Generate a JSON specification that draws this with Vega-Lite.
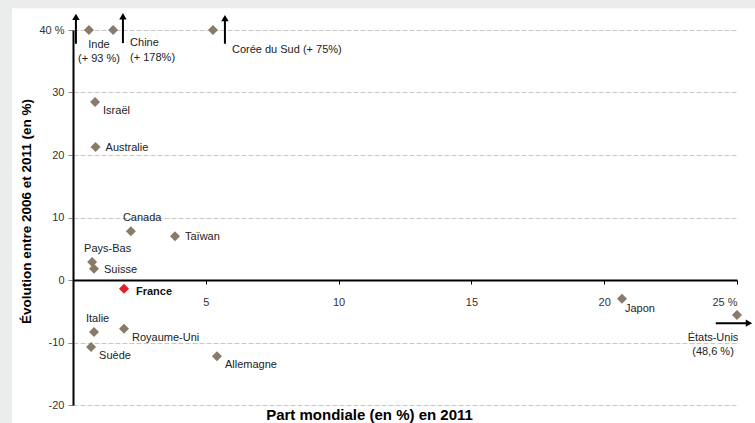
{
  "$schema": "https://vega.github.io/schema/vega-lite/v6.json",
  "width": 664,
  "height": 375,
  "autosize": {"type": "none"},
  "padding": {"left": 73, "top": 30, "right": 18, "bottom": 18},
  "background": "white",
  "config": {"view": {"stroke": null}, "font": "Liberation Sans"},
  "datasets": {
    "pays": [
      {"pays": "Inde", "part": 0.60, "evolution": 40, "etiquette": "Inde\n(+ 93 %)"},
      {"pays": "Chine", "part": 1.51, "evolution": 40, "etiquette": "Chine\n(+ 178%)"},
      {"pays": "Corée du Sud", "part": 5.27, "evolution": 40, "etiquette": "Corée du Sud (+ 75%)"},
      {"pays": "Israël", "part": 0.83, "evolution": 28.5, "etiquette": "Israël"},
      {"pays": "Australie", "part": 0.85, "evolution": 21.3, "etiquette": "Australie"},
      {"pays": "Canada", "part": 2.18, "evolution": 7.8, "etiquette": "Canada"},
      {"pays": "Taïwan", "part": 3.84, "evolution": 7.0, "etiquette": "Taïwan"},
      {"pays": "Pays-Bas", "part": 0.72, "evolution": 2.9, "etiquette": "Pays-Bas"},
      {"pays": "Suisse", "part": 0.79, "evolution": 1.8, "etiquette": "Suisse"},
      {"pays": "France", "part": 1.92, "evolution": -1.4, "etiquette": "France"},
      {"pays": "Italie", "part": 0.79, "evolution": -8.3, "etiquette": "Italie"},
      {"pays": "Royaume-Uni", "part": 1.92, "evolution": -7.8, "etiquette": "Royaume-Uni"},
      {"pays": "Suède", "part": 0.68, "evolution": -10.7, "etiquette": "Suède"},
      {"pays": "Allemagne", "part": 5.42, "evolution": -12.2, "etiquette": "Allemagne"},
      {"pays": "Japon", "part": 20.67, "evolution": -3.0, "etiquette": "Japon"},
      {"pays": "États-Unis", "part": 25.0, "evolution": -5.6, "etiquette": "États-Unis\n(48,6 %)"}
    ],
    "fleches": [
      {"x": 0.11, "y": 37.8, "x2": 0.11, "y2": 42.1, "sens": "haut"},
      {"x": 1.88, "y": 37.9, "x2": 1.88, "y2": 42.2, "sens": "haut"},
      {"x": 5.72, "y": 37.8, "x2": 5.72, "y2": 41.9, "sens": "haut"},
      {"x": 24.2, "y": -6.9, "x2": 25.45, "y2": -6.9, "sens": "droite"}
    ]
  },
  "data": {"name": "pays"},
  "layer": [
    {
      "data": {"values": [{}]},
      "mark": {"type": "rect", "color": "#ebecec"},
      "encoding": {
        "x": {"datum": -3, "type": "quantitative", "scale": {"domain": [0, 25], "nice": false, "zero": false}},
        "x2": {"datum": -2.3},
        "y": {"datum": -25, "type": "quantitative", "scale": {"domain": [-20, 40], "nice": false, "zero": false}},
        "y2": {"datum": 46}
      }
    },
    {
      "data": {"values": [{}]},
      "mark": {"type": "rect", "color": "#ebecec"},
      "encoding": {
        "x": {"datum": -3, "type": "quantitative", "scale": {"domain": [0, 25], "nice": false, "zero": false}},
        "x2": {"datum": 28},
        "y": {"datum": 43.5, "type": "quantitative", "scale": {"domain": [-20, 40], "nice": false, "zero": false}},
        "y2": {"datum": 46}
      }
    },
    {
      "mark": {"type": "point", "shape": "diamond", "filled": true, "size": 100, "opacity": 1},
      "encoding": {
        "x": {
          "field": "part", "type": "quantitative",
          "scale": {"domain": [0, 25], "nice": false, "zero": false},
          "axis": {
            "title": "Part mondiale (en %) en 2011",
            "values": [5, 10, 15, 20, 25],
            "labelExpr": "datum.value == 25 ? '25 %' : datum.label",
            "offset": -125,
            "grid": false,
            "domainColor": "black", "domainWidth": 2,
            "tickColor": "black", "tickSize": 4, "tickWidth": 1,
            "labelFontSize": 11, "labelColor": "#333333", "labelPadding": 12,
            "titleFontSize": 15, "titleFontWeight": "bold", "titleColor": "black",
            "titleX": 296, "titleY": 139, "titleAlign": "center", "titleAnchor": null, "titleBaseline": "alphabetic",
            "zindex": 1
          }
        },
        "y": {
          "field": "evolution", "type": "quantitative",
          "scale": {"domain": [-20, 40], "nice": false, "zero": false},
          "axis": {
            "title": "Évolution entre 2006 et 2011 (en %)",
            "values": [-20, -10, 0, 10, 20, 30, 40],
            "labelExpr": "datum.value == 40 ? '40 %' : '' + datum.value",
            "grid": true, "gridColor": "#c8c8c8", "gridDash": [5, 2], "gridWidth": 1,
            "domainColor": "black", "domainWidth": 2,
            "tickColor": "#888888", "tickSize": 5, "tickWidth": 1,
            "labelFontSize": 11, "labelColor": "#333333", "labelPadding": 4,
            "titleFontSize": 13.5, "titleFontWeight": "bold", "titleColor": "black",
            "titleX": -47, "titleY": 181, "titleBaseline": "middle", "titleAlign": "center", "titleAnchor": null,
            "zindex": 0
          }
        },
        "color": {
          "condition": {"test": "datum.pays == 'France'", "value": "#e31e24"},
          "value": "#8a7a6a"
        }
      }
    },
    {
      "data": {"name": "fleches"},
      "mark": {"type": "rule", "color": "black", "strokeWidth": 2},
      "encoding": {
        "x": {"field": "x", "type": "quantitative", "scale": {"domain": [0, 25], "nice": false, "zero": false}},
        "y": {"field": "y", "type": "quantitative", "scale": {"domain": [-20, 40], "nice": false, "zero": false}},
        "x2": {"field": "x2"},
        "y2": {"field": "y2"}
      }
    },
    {
      "data": {"name": "fleches"},
      "mark": {"type": "point", "filled": true, "size": 55, "color": "black", "opacity": 1},
      "encoding": {
        "x": {"field": "x2", "type": "quantitative", "scale": {"domain": [0, 25], "nice": false, "zero": false}},
        "y": {"field": "y2", "type": "quantitative", "scale": {"domain": [-20, 40], "nice": false, "zero": false}},
        "shape": {"field": "sens", "type": "nominal", "scale": {"domain": ["haut", "droite"], "range": ["triangle-up", "triangle-right"]}, "legend": null}
      }
    },
    {
      "transform": [{"filter": {"field": "pays", "oneOf": ["Australie", "Taïwan", "Suisse"]}}],
      "mark": {"type": "text", "align": "left", "baseline": "middle", "dx": 10, "dy": 1, "fontSize": 11, "color": "#222222"},
      "encoding": {
        "x": {"field": "part", "type": "quantitative", "scale": {"domain": [0, 25], "nice": false, "zero": false}},
        "y": {"field": "evolution", "type": "quantitative", "scale": {"domain": [-20, 40], "nice": false, "zero": false}},
        "text": {"field": "etiquette"}
      }
    },
    {
      "transform": [{"filter": {"field": "pays", "oneOf": ["Israël", "Suède", "Allemagne", "Royaume-Uni"]}}],
      "mark": {"type": "text", "align": "left", "baseline": "middle", "dx": 8, "dy": 9, "fontSize": 11, "color": "#222222"},
      "encoding": {
        "x": {"field": "part", "type": "quantitative", "scale": {"domain": [0, 25], "nice": false, "zero": false}},
        "y": {"field": "evolution", "type": "quantitative", "scale": {"domain": [-20, 40], "nice": false, "zero": false}},
        "text": {"field": "etiquette"}
      }
    },
    {
      "transform": [{"filter": {"field": "pays", "oneOf": ["Canada", "Pays-Bas", "Italie"]}}],
      "mark": {"type": "text", "align": "left", "baseline": "middle", "dx": -8, "dy": -13, "fontSize": 11, "color": "#222222"},
      "encoding": {
        "x": {"field": "part", "type": "quantitative", "scale": {"domain": [0, 25], "nice": false, "zero": false}},
        "y": {"field": "evolution", "type": "quantitative", "scale": {"domain": [-20, 40], "nice": false, "zero": false}},
        "text": {"field": "etiquette"}
      }
    },
    {
      "transform": [{"filter": {"field": "pays", "equal": "France"}}],
      "mark": {"type": "text", "align": "left", "baseline": "middle", "dx": 12, "dy": 3, "fontSize": 11, "fontWeight": "bold", "color": "#111111"},
      "encoding": {
        "x": {"field": "part", "type": "quantitative", "scale": {"domain": [0, 25], "nice": false, "zero": false}},
        "y": {"field": "evolution", "type": "quantitative", "scale": {"domain": [-20, 40], "nice": false, "zero": false}},
        "text": {"field": "etiquette"}
      }
    },
    {
      "transform": [{"filter": {"field": "pays", "equal": "Japon"}}],
      "mark": {"type": "text", "align": "left", "baseline": "middle", "dx": 3, "dy": 10, "fontSize": 11, "color": "#222222"},
      "encoding": {
        "x": {"field": "part", "type": "quantitative", "scale": {"domain": [0, 25], "nice": false, "zero": false}},
        "y": {"field": "evolution", "type": "quantitative", "scale": {"domain": [-20, 40], "nice": false, "zero": false}},
        "text": {"field": "etiquette"}
      }
    },
    {
      "transform": [{"filter": {"field": "pays", "equal": "Corée du Sud"}}],
      "mark": {"type": "text", "align": "left", "baseline": "middle", "dx": 19, "dy": 20, "fontSize": 11, "color": "#222222"},
      "encoding": {
        "x": {"field": "part", "type": "quantitative", "scale": {"domain": [0, 25], "nice": false, "zero": false}},
        "y": {"field": "evolution", "type": "quantitative", "scale": {"domain": [-20, 40], "nice": false, "zero": false}},
        "text": {"field": "etiquette"}
      }
    },
    {
      "transform": [{"filter": {"field": "pays", "equal": "Inde"}}],
      "mark": {"type": "text", "align": "center", "baseline": "top", "dx": 10, "dy": 9, "fontSize": 11, "lineBreak": "\n", "lineHeight": 14, "color": "#222222"},
      "encoding": {
        "x": {"field": "part", "type": "quantitative", "scale": {"domain": [0, 25], "nice": false, "zero": false}},
        "y": {"field": "evolution", "type": "quantitative", "scale": {"domain": [-20, 40], "nice": false, "zero": false}},
        "text": {"field": "etiquette"}
      }
    },
    {
      "transform": [{"filter": {"field": "pays", "equal": "Chine"}}],
      "mark": {"type": "text", "align": "left", "baseline": "top", "dx": 17, "dy": 7, "fontSize": 11, "lineBreak": "\n", "lineHeight": 15, "color": "#222222"},
      "encoding": {
        "x": {"field": "part", "type": "quantitative", "scale": {"domain": [0, 25], "nice": false, "zero": false}},
        "y": {"field": "evolution", "type": "quantitative", "scale": {"domain": [-20, 40], "nice": false, "zero": false}},
        "text": {"field": "etiquette"}
      }
    },
    {
      "transform": [{"filter": {"field": "pays", "equal": "États-Unis"}}],
      "mark": {"type": "text", "align": "center", "baseline": "top", "dx": -24, "dy": 17, "fontSize": 11, "lineBreak": "\n", "lineHeight": 14, "color": "#222222"},
      "encoding": {
        "x": {"field": "part", "type": "quantitative", "scale": {"domain": [0, 25], "nice": false, "zero": false}},
        "y": {"field": "evolution", "type": "quantitative", "scale": {"domain": [-20, 40], "nice": false, "zero": false}},
        "text": {"field": "etiquette"}
      }
    }
  ]
}
